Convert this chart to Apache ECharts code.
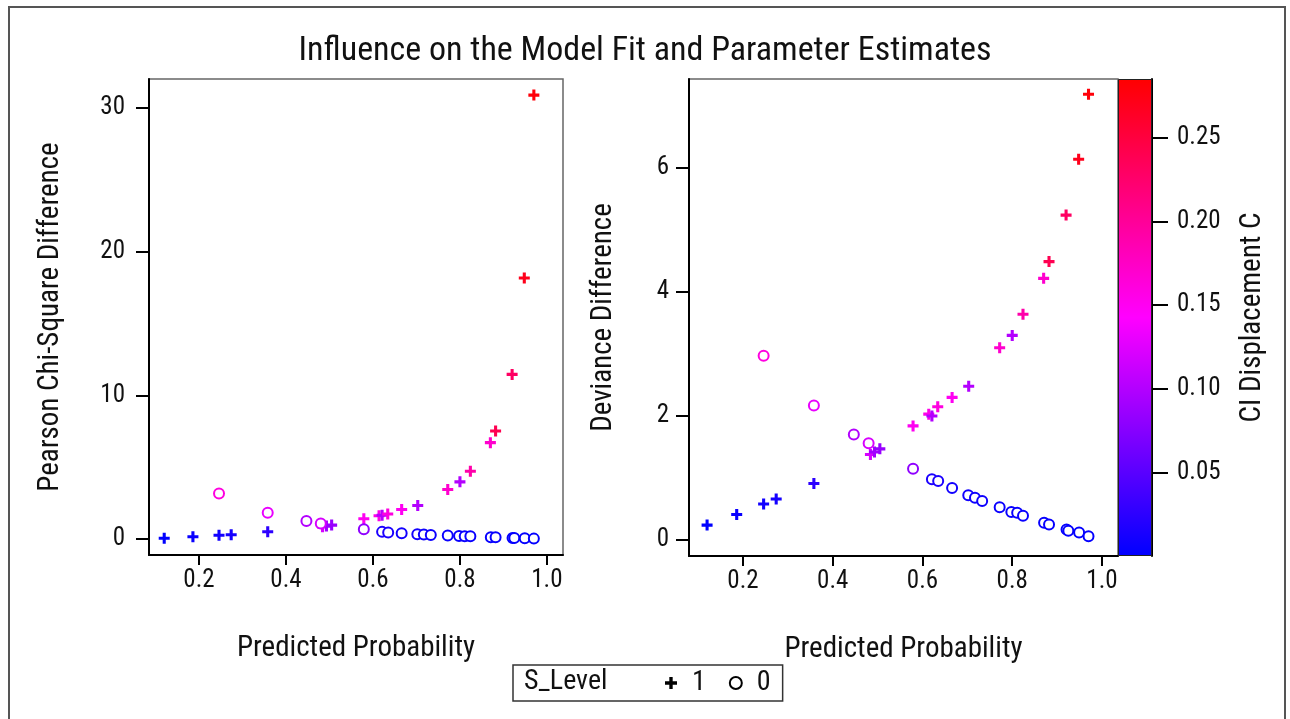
<!DOCTYPE html>
<html>
<head>
<meta charset="utf-8">
<script src="https://cdn.jsdelivr.net/npm/echarts@6/dist/echarts.min.js"></script>
<style>
  html, body { margin: 0; padding: 0; background: #fff; }
  #chart { width: 1290px; height: 719px; }
</style>
</head>
<body>
<div id="chart"></div>
<script>
// S_Level = 1 (plus)
const probPlus = [0.12, 0.186, 0.246, 0.274, 0.358, 0.484, 0.493, 0.505, 0.579, 0.614, 0.621, 0.634, 0.666, 0.703, 0.772, 0.800, 0.824, 0.870, 0.882, 0.920, 0.948, 0.970];
const pearsonPlus = [0.05, 0.16, 0.26, 0.30, 0.51, 0.85, 0.90, 0.97, 1.41, 1.62, 1.66, 1.74, 2.06, 2.34, 3.45, 3.98, 4.72, 6.71, 7.52, 11.46, 18.17, 30.90];
const deviancePlus = [0.24, 0.41, 0.58, 0.66, 0.91, 1.38, 1.42, 1.47, 1.84, 2.03, 2.00, 2.15, 2.30, 2.48, 3.10, 3.30, 3.64, 4.22, 4.49, 5.24, 6.14, 7.19];
const ciPlus = [0.0, 0.005, 0.01, 0.012, 0.025, 0.12, 0.09, 0.085, 0.15, 0.155, 0.10, 0.16, 0.15, 0.10, 0.17, 0.10, 0.19, 0.17, 0.24, 0.23, 0.27, 0.28];

// S_Level = 0 (circle)
const probZero = [0.246, 0.358, 0.447, 0.480, 0.579, 0.621, 0.635, 0.666, 0.702, 0.717, 0.733, 0.772, 0.798, 0.811, 0.824, 0.871, 0.882, 0.921, 0.925, 0.949, 0.970];
const pearsonZero = [3.17, 1.83, 1.25, 1.09, 0.69, 0.50, 0.46, 0.40, 0.33, 0.31, 0.29, 0.25, 0.21, 0.20, 0.19, 0.13, 0.12, 0.07, 0.07, 0.05, 0.03];
const devianceZero = [2.97, 2.17, 1.70, 1.56, 1.15, 0.98, 0.95, 0.84, 0.72, 0.68, 0.63, 0.53, 0.45, 0.44, 0.39, 0.28, 0.25, 0.17, 0.15, 0.12, 0.06];
const ciZero = [0.16, 0.13, 0.10, 0.12, 0.08, 0.015, 0.015, 0.01, 0.01, 0.008, 0.008, 0.006, 0.005, 0.005, 0.005, 0.004, 0.004, 0.003, 0.003, 0.002, 0.002];

const xTicks = [0.2, 0.4, 0.6, 0.8, 1.0];
const pearsonTicks = [0, 10, 20, 30];
const devianceTicks = [0, 2, 4, 6];
const ciTicks = [0.05, 0.10, 0.15, 0.20, 0.25];
const ciRange = [0, 0.285];

const font = "'Liberation Sans Narrow', 'Roboto Condensed', 'DejaVu Sans Condensed', sans-serif";
const plusPath = 'path://M3.6,0H6.4V3.6H10V6.4H6.4V10H3.6V6.4H0V3.6H3.6Z';

function zip(xs, ys, cs) {
    return xs.map(function (x, i) { return [x, ys[i], cs[i]]; });
}

let dom = document.getElementById("chart");
let chart = echarts.init(dom);

function valueAxis(grid, min, max, ticks, fmt, name, gap, tickLen, margin) {
    return {
        type: 'value',
        gridIndex: grid,
        min: min,
        max: max,
        name: name,
        nameLocation: 'middle',
        nameGap: gap,
        nameMoveOverlap: false,
        nameTextStyle: { fontSize: 29, color: '#111', fontFamily: font },
        axisLine: { show: true, onZero: false, lineStyle: { color: '#000', width: 2 } },
        axisTick: { show: true, length: tickLen, customValues: ticks, lineStyle: { color: '#000', width: 2 } },
        axisLabel: { customValues: ticks, formatter: fmt, fontSize: 25, color: '#111', margin: margin, fontFamily: font },
        splitLine: { show: false }
    };
}

let option = {
    animation: false,
    backgroundColor: '#fff',
    textStyle: { fontFamily: font },
    title: {
        text: 'Influence on the Model Fit and Parameter Estimates',
        left: 'center',
        top: 29,
        textStyle: { fontSize: 34, fontWeight: 'normal', color: '#111', fontFamily: font }
    },
    graphic: [
        {
            type: 'rect', silent: true,
            shape: { x: 9, y: 7, width: 1276, height: 740 },
            style: { fill: 'none', stroke: '#555', lineWidth: 2 }
        },
        {
            type: 'text', silent: true, left: 524, top: 668,
            style: { text: 'S_Level', fontSize: 28, fill: '#111', fontFamily: font }
        }
    ],
    legend: {
        left: 513,
        top: 665,
        padding: [4, 12, 4, 152],
        borderColor: '#333',
        borderWidth: 1.5,
        itemWidth: 12,
        itemHeight: 12,
        itemGap: 23,
        formatter: function (name) { return '{t|' + name + '}'; },
        textStyle: {
            fontSize: 28, color: '#111', fontFamily: font,
            rich: { t: { fontSize: 28, color: '#111', fontFamily: font, padding: [0, 0, 0, 10] } }
        },
        data: [
            { name: '1', icon: plusPath, itemStyle: { color: '#000', borderWidth: 0 } },
            { name: '0', icon: 'circle', itemStyle: { color: 'rgba(0,0,0,0)', borderColor: '#000', borderWidth: 2 } }
        ]
    },
    visualMap: {
        type: 'continuous',
        show: false,
        min: ciRange[0],
        max: ciRange[1],
        dimension: 2,
        seriesIndex: [0, 1, 2, 3],
        inRange: { color: ['#0000ff', '#ff00ff', '#ff0000'] }
    },
    grid: [
        { left: 149, top: 79, width: 414, height: 476, show: true, borderColor: '#666', borderWidth: 1.5 },
        { left: 689, top: 79, width: 429, height: 477, show: true, borderColor: '#666', borderWidth: 1.5 },
        { left: 1118, top: 79, width: 34, height: 477 }
    ],
    xAxis: [
        valueAxis(0, 0.085, 1.037, xTicks, function (v) { return v.toFixed(1); }, 'Predicted Probability', 79, 10, 13),
        valueAxis(1, 0.0797, 1.0357, xTicks, function (v) { return v.toFixed(1); }, 'Predicted Probability', 79, 10, 13),
        { type: 'category', gridIndex: 2, data: ['C'], show: false }
    ],
    yAxis: [
        valueAxis(0, -1.11, 32.02, pearsonTicks, function (v) { return String(v); }, 'Pearson Chi-Square Difference', 84, 13, 24),
        valueAxis(1, -0.258, 7.435, devianceTicks, function (v) { return String(v); }, 'Deviance Difference', 71, 13, 20),
        Object.assign(valueAxis(2, ciRange[0], ciRange[1], ciTicks, function (v) { return v.toFixed(2); }, 'CI Displacement C', 86, 16, 25), {
            position: 'right',
            nameRotate: 90
        })
    ],
    series: [
        {
            name: '1', type: 'scatter', xAxisIndex: 0, yAxisIndex: 0,
            symbol: plusPath, symbolSize: 11, itemStyle: { opacity: 1 },
            data: zip(probPlus, pearsonPlus, ciPlus)
        },
        {
            name: '0', type: 'scatter', xAxisIndex: 0, yAxisIndex: 0,
            symbol: 'emptyCircle', symbolSize: 10, itemStyle: { borderWidth: 2.5, opacity: 1 },
            data: zip(probZero, pearsonZero, ciZero)
        },
        {
            name: '1', type: 'scatter', xAxisIndex: 1, yAxisIndex: 1,
            symbol: plusPath, symbolSize: 11, itemStyle: { opacity: 1 },
            data: zip(probPlus, deviancePlus, ciPlus)
        },
        {
            name: '0', type: 'scatter', xAxisIndex: 1, yAxisIndex: 1,
            symbol: 'emptyCircle', symbolSize: 10, itemStyle: { borderWidth: 2.5, opacity: 1 },
            data: zip(probZero, devianceZero, ciZero)
        },
        {
            name: 'colorbar', type: 'bar', xAxisIndex: 2, yAxisIndex: 2,
            barWidth: '100%', silent: true,
            itemStyle: {
                borderColor: '#222',
                borderWidth: 1,
                color: {
                    type: 'linear', x: 0, y: 0, x2: 0, y2: 1,
                    colorStops: [
                        { offset: 0, color: '#ff0000' },
                        { offset: 0.5, color: '#ff00ff' },
                        { offset: 1, color: '#0000ff' }
                    ]
                }
            },
            data: [ciRange[1]]
        }
    ]
};

chart.setOption(option);
</script>
</body>
</html>
